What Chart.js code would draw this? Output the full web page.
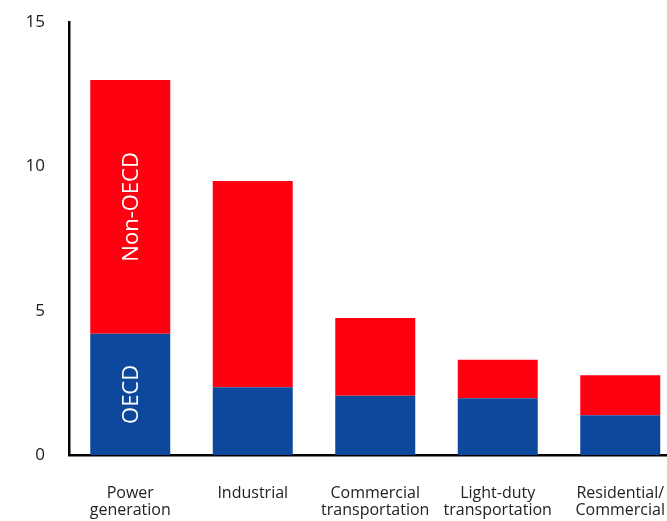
<!DOCTYPE html>
<html>
<head>
<meta charset="utf-8">
<script src="https://cdn.jsdelivr.net/npm/chart.js@4.4.1/dist/chart.umd.min.js"></script>
<style>
  html, body { margin: 0; padding: 0; background: #fff; overflow: hidden; }
  #wrap { width: 667px; height: 521px; overflow: hidden; }
  #emissionsChart { display: block; margin-top: -12px; }
</style>
</head>
<body>
<div id="wrap"><canvas id="emissionsChart" width="695" height="533"></canvas></div>
<script>
// Data
const sectors = [
    ['Power', 'generation'],
    ['Industrial'],
    ['Commercial', 'transportation'],
    ['Light-duty', 'transportation'],
    ['Residential/', 'Commercial']
];
const oecd = [4.2, 2.35, 2.05, 1.97, 1.38];
const nonOecd = [8.8, 7.15, 2.7, 1.33, 1.38];
const yTicks = [0, 5, 10, 15];

const blue = '#0e489c';
const red = '#ff0010';
const textColor = '#222222';

// writes the series names vertically inside the first bar
const insideLabels = {
    id: 'insideLabels',
    afterDatasetsDraw(chart) {
        const ctx = chart.ctx;
        chart.data.datasets.forEach((ds, i) => {
            const bar = chart.getDatasetMeta(i).data[0];
            if (!bar) return;
            const cy = (bar.y + bar.base) / 2;
            ctx.save();
            ctx.translate(bar.x, cy);
            ctx.rotate(-Math.PI / 2);
            ctx.fillStyle = '#ffffff';
            ctx.font = '22px "Open Sans"';
            ctx.textAlign = 'center';
            ctx.textBaseline = 'middle';
            ctx.fillText(ds.label, 0, 1);
            ctx.restore();
        });
    }
};

const ctx = document.getElementById('emissionsChart').getContext('2d');
const chart = new Chart(ctx, {
    type: 'bar',
    data: {
        labels: sectors,
        datasets: [
            { label: 'OECD', data: oecd, backgroundColor: blue },
            { label: 'Non-OECD', data: nonOecd, backgroundColor: red }
        ]
    },
    options: {
        responsive: false,
        animation: false,
        layout: { padding: { top: 9, right: 0, left: 0, bottom: 0 } },
        categoryPercentage: 1,
        barPercentage: 0.653,
        plugins: {
            legend: { display: false },
            tooltip: { enabled: false }
        },
        scales: {
            x: {
                stacked: true,
                grid: { display: false, drawTicks: false },
                border: { color: '#000', width: 2.5 },
                ticks: {
                    color: textColor,
                    font: { family: 'Open Sans', size: 16, lineHeight: 1.05 },
                    padding: 30,
                    maxRotation: 0,
                    autoSkip: false
                },
                afterFit(scale) { scale.height = 66; }
            },
            y: {
                stacked: true,
                min: 0,
                max: 15,
                afterBuildTicks(scale) { scale.ticks = yTicks.map(v => ({ value: v })); },
                grid: { display: false, drawTicks: false },
                border: { color: '#000', width: 2.5 },
                ticks: {
                    color: textColor,
                    font: { family: 'Open Sans', size: 17 },
                    padding: 24
                },
                afterFit(scale) { scale.width = 69; }
            }
        }
    },
    plugins: [insideLabels]
});
</script>
</body>
</html>
